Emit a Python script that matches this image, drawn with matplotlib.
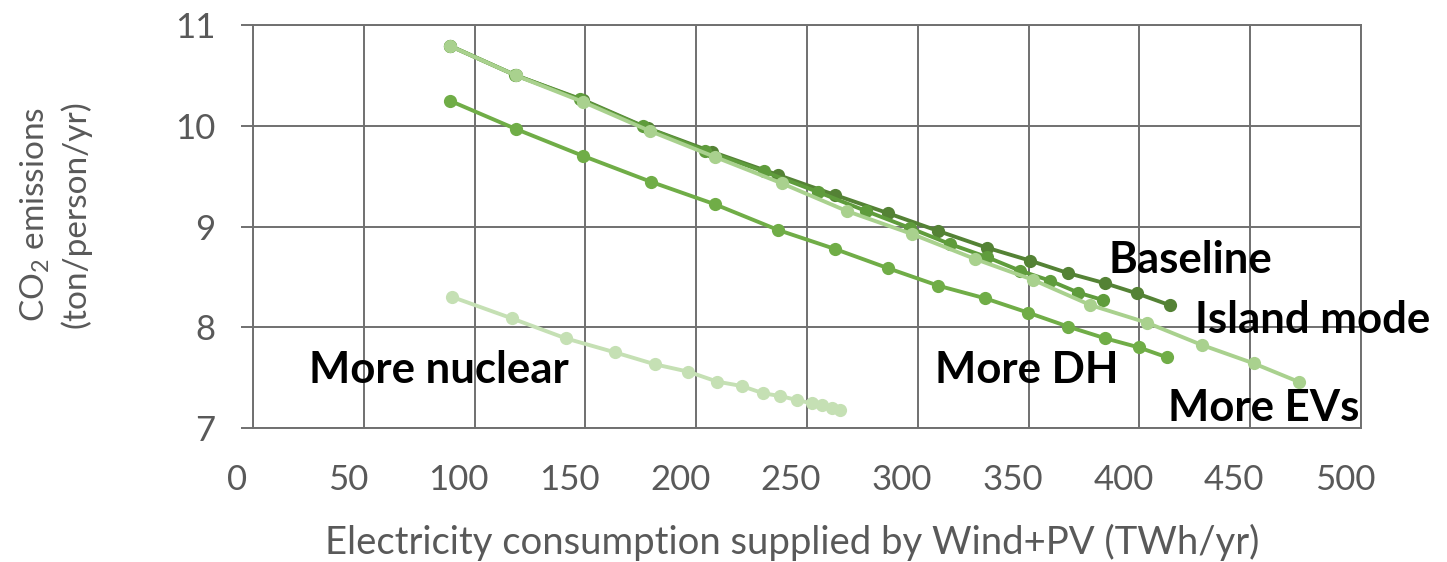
import matplotlib
matplotlib.use('Agg')
import matplotlib.pyplot as plt
from matplotlib.transforms import ScaledTranslation

# ── Data ──
baseline_x = [89.1, 118.6, 149.0, 178.3, 207.0, 237.0, 262.6, 286.7, 309.3, 331.1,
              350.7, 368.0, 384.6, 398.9, 413.6]
baseline_y = [10.79, 10.50, 10.256, 9.975, 9.742, 9.511, 9.313, 9.131, 8.955, 8.790,
              8.661, 8.536, 8.436, 8.336, 8.22]

island_x = [89.1, 118.2, 147.5, 175.9, 203.9, 230.6, 255.0, 276.6, 296.5, 314.5,
            331.1, 346.2, 359.7, 372.5, 383.5]
island_y = [10.792, 10.504, 10.261, 9.993, 9.754, 9.546, 9.342, 9.154, 8.985, 8.826,
            8.697, 8.561, 8.462, 8.343, 8.270]

evs_x = [89.1, 118.6, 149.0, 179.1, 208.5, 238.6, 267.9, 297.3, 325.9, 352.2,
         377.8, 403.4, 428.2, 451.5, 471.8]
evs_y = [10.79, 10.499, 10.236, 9.948, 9.690, 9.429, 9.154, 8.926, 8.677, 8.469,
         8.221, 8.045, 7.824, 7.642, 7.459]

dh_x = [89.1, 118.6, 149.0, 179.4, 208.5, 237.0, 262.6, 286.7, 309.3, 330.4,
        349.9, 368.0, 384.6, 399.6, 412.4]
dh_y = [10.246, 9.968, 9.700, 9.445, 9.220, 8.965, 8.777, 8.585, 8.412, 8.287,
        8.144, 8.005, 7.890, 7.801, 7.702]

nuclear_x = [89.6, 116.7, 141.1, 163.3, 181.4, 196.4, 209.5, 220.5, 230.3, 237.8,
             245.4, 252.1, 256.6, 261.2, 264.9]
nuclear_y = [8.303, 8.089, 7.890, 7.751, 7.632, 7.559, 7.460, 7.417, 7.344, 7.318,
             7.278, 7.245, 7.228, 7.202, 7.179]

series = [
    ("Baseline", baseline_x, baseline_y, "#548235"),
    ("Island mode", island_x, island_y, "#5f9c3c"),
    ("More EVs", evs_x, evs_y, "#a9d18e"),
    ("More DH", dh_x, dh_y, "#70ad47"),
    ("More nuclear", nuclear_x, nuclear_y, "#c5e0b4"),
]

# label placement (data coords)
label_pos = {
    "Baseline": (423, 8.67),
    "Island mode": (478, 8.07),
    "More DH": (349, 7.58),
    "More EVs": (456, 7.20),
    "More nuclear": (84, 7.58),
}

GRID = "#707070"
TXT = "#595959"

plt.rcParams['font.family'] = ['Lato', 'DejaVu Sans']

fig = plt.figure(figsize=(14.47, 5.62), dpi=100)
ax = fig.add_axes([253 / 1447, 1 - 428 / 562, 1108 / 1447, 403 / 562])

for name, xs, ys, col in series:
    ax.plot(xs, ys, color=col, lw=2.8, marker="o", markersize=9.5,
            markeredgewidth=0, zorder=3)
    lx, ly = label_pos[name]
    ax.text(lx, ly, name, ha="center", va="center", fontsize=31.5,
            fontweight="bold", color="black", zorder=5)

ax.set_xlim(0, 500)
ax.set_ylim(7, 11)
ax.set_xticks(range(0, 501, 50))
ax.set_yticks(range(7, 12))
ax.grid(True, color=GRID, lw=1.4, zorder=0)
for s in ax.spines.values():
    s.set_color(GRID)
    s.set_linewidth(1.4)

ax.tick_params(axis="x", length=0, pad=26, labelsize=25, labelcolor=TXT)
ax.tick_params(axis="y", length=9, width=1.4, color=GRID, pad=18,
               labelsize=25, labelcolor=TXT)

# x tick labels sit a bit left of their gridlines in the reference
shift = ScaledTranslation(-16 / 100, 0, fig.dpi_scale_trans)
for lab in ax.get_xticklabels():
    lab.set_transform(lab.get_transform() + shift)

ax.set_xlabel("Electricity consumption supplied by Wind+PV (TWh/yr)",
              fontsize=27.5, color=TXT, va="center")
ax.xaxis.set_label_coords(0.4865, -0.285)
ax.set_ylabel("CO$_\\mathregular{2}$ emissions\n(ton/person/yr)",
              fontsize=24, color=TXT, va="center", ha="center", linespacing=1.3)
ax.yaxis.set_label_coords(-0.1787, 0.53)

fig.savefig("out.png", dpi=100)
